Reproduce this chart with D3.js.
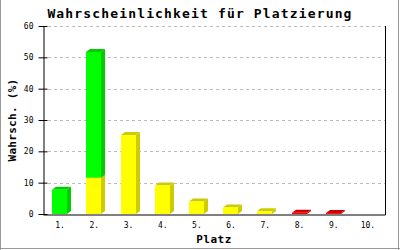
<!DOCTYPE html>
<html>
<head>
<meta charset="utf-8">
<script src="https://cdn.jsdelivr.net/npm/d3@7"></script>
<style>
  html, body { margin: 0; padding: 0; background: #fff; }
  svg { display: block; }
</style>
</head>
<body>
<svg id="chart" width="400" height="250"></svg>
<script>
const categories = ["1.", "2.", "3.", "4.", "5.", "6.", "7.", "8.", "9.", "10."];
const yellowValues = [0, 11.6, 25.2, 9.1, 4.0, 2.1, 0.85, 0, 0, 0];
const greenValues  = [7.7, 40.1, 0, 0, 0, 0, 0, 0, 0, 0];
const redValues    = [0, 0, 0, 0, 0, 0, 0, 0.4, 0.3, 0];
const yTicks = [0, 10, 20, 30, 40, 50, 60];
const titleText = "Wahrscheinlichkeit für Platzierung";
const xTitle = "Platz";
const yTitle = "Wahrsch. (%)";

const series = [
  { key: "yellow", values: yellowValues, front: "#ffff00", side: "#cccc00" },
  { key: "green",  values: greenValues,  front: "#00ff00", side: "#00cc00" },
  { key: "red",    values: redValues,    front: "#ff0000", side: "#cc0000" }
];

const svg = d3.select("#chart");
const plotLeft = 43, plotRight = 385, plotTop = 26, plotBottom = 214;

const x = d3.scaleBand().domain(categories).range([plotLeft, plotRight]).padding(0);
const y = d3.scaleLinear().domain([0, 60]).range([plotBottom, plotTop]);

// image frame
svg.append("line").attr("x1", 0.5).attr("x2", 0.5).attr("y1", 0).attr("y2", 250).attr("stroke", "#999");
svg.append("line").attr("x1", 398.5).attr("x2", 398.5).attr("y1", 0).attr("y2", 250).attr("stroke", "#999");
svg.append("line").attr("x1", 0).attr("x2", 400).attr("y1", 248.5).attr("y2", 248.5).attr("stroke", "#999");

// grid
svg.append("g").selectAll("line").data(yTicks.filter(d => d > 0)).join("line")
  .attr("x1", plotLeft + 5).attr("x2", plotRight)
  .attr("y1", d => Math.round(y(d)) + 0.5).attr("y2", d => Math.round(y(d)) + 0.5)
  .attr("stroke", "#bbbbbb").attr("stroke-dasharray", "3,3");

// bars (3D)
const dx = 4, dy = 3, barW = 15;
const stackData = d3.stack().keys(series.map(s => s.key))(
  categories.map((c, i) => ({ cat: c, yellow: yellowValues[i], green: greenValues[i], red: redValues[i] }))
);
const barsG = svg.append("g");
categories.forEach((c, i) => {
  stackData.forEach((layer, si) => {
    const s = series[si];
    const v0 = layer[i][0], v1 = layer[i][1];
    if (v1 - v0 <= 0) return;
    const x0 = Math.round(x(c) + x.bandwidth() / 2) - 8;
    const x1 = x0 + barW;
    const yt = y(v1), yb = y(v0);
    barsG.append("path")
      .attr("d", `M${x1},${yt}L${x1 + dx},${yt - dy}L${x1 + dx},${yb - dy}L${x1},${yb}Z`)
      .attr("fill", s.side);
    barsG.append("path")
      .attr("d", `M${x0},${yt}L${x0 + dx},${yt - dy}L${x1 + dx},${yt - dy}L${x1},${yt}Z`)
      .attr("fill", s.side);
    barsG.append("rect")
      .attr("x", x0).attr("y", yt).attr("width", barW).attr("height", Math.max(0, yb - yt))
      .attr("fill", s.front);
  });
});

// axes
const yAxis = d3.axisLeft(y).tickValues(yTicks).tickSizeInner(4).tickSizeOuter(0).tickPadding(6);
const yG = svg.append("g").attr("transform", `translate(${plotLeft + 0.5},0)`).call(yAxis);
yG.selectAll(".tick line").attr("x2", 4).attr("x1", -5).attr("stroke", "#000");
yG.select(".domain").attr("stroke", "#000");
yG.selectAll("text").attr("font-family", "DejaVu Sans Mono, monospace").attr("font-size", 8).attr("fill", "#000");

const xAxis = d3.axisBottom(x).tickSize(0).tickPadding(8);
const xG = svg.append("g").attr("transform", `translate(0,${plotBottom + 0.5})`).call(xAxis);
xG.select(".domain").attr("stroke", "#000");
xG.selectAll("text").attr("font-family", "DejaVu Sans Mono, monospace").attr("font-size", 8).attr("fill", "#000");

// right frame line
svg.append("line").attr("x1", plotRight + 0.5).attr("x2", plotRight + 0.5).attr("y1", plotTop).attr("y2", plotBottom + 1).attr("stroke", "#000");

// titles
svg.append("text").attr("x", 200).attr("y", 18).attr("text-anchor", "middle")
  .attr("font-family", "DejaVu Sans Mono, monospace").attr("font-weight", "bold")
  .attr("font-size", 13).attr("letter-spacing", 1.15).text(titleText);

svg.append("text").attr("x", (plotLeft + plotRight) / 2).attr("y", 243).attr("text-anchor", "middle")
  .attr("font-family", "DejaVu Sans Mono, monospace").attr("font-weight", "bold")
  .attr("font-size", 11).attr("letter-spacing", 0.5).text(xTitle);

svg.append("text").attr("transform", `translate(16,${(plotTop + plotBottom) / 2}) rotate(-90)`)
  .attr("text-anchor", "middle")
  .attr("font-family", "DejaVu Sans Mono, monospace").attr("font-weight", "bold")
  .attr("font-size", 11).attr("letter-spacing", 0.3).text(yTitle);
</script>
</body>
</html>
